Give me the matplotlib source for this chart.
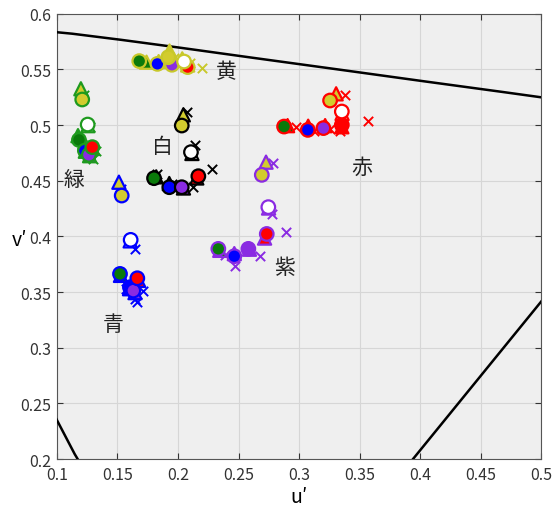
import matplotlib
matplotlib.use("Agg")
import matplotlib.pyplot as plt

plt.rcParams['font.family'] = ['Noto Sans CJK JP', 'DejaVu Sans']

# Clusters (target colours) and their labels
clusters = ['黄', '白', '赤', '緑', '紫', '青']
label_u = [0.2397, 0.1868, 0.3520, 0.1140, 0.2884, 0.1463]
label_v = [0.5488, 0.4813, 0.4625, 0.4517, 0.3726, 0.3213]
cluster_edge = ['#c8c82a', '#000000', '#ff0000', '#1e9a1e', '#8a2be2', '#0000ff']

# Conditions (face colours): green, blue, purple, red, yellow, white
condition_face = ['#0a7a0a', '#0000ff', '#8a2be2', '#ff0000', '#d2cc2e', '#ffffff']

# circle markers: rows = clusters, cols = conditions
circle_u = [
    [0.168, 0.183, 0.195, 0.208, 0.192, 0.205],
    [0.1802, 0.1928, 0.2031, 0.2168, 0.2031, 0.2107],
    [0.2876, 0.3072, 0.3201, 0.3353, 0.3256, 0.3353],
    [0.1182, 0.1231, 0.1264, 0.1292, 0.1209, 0.1254],
    [0.2333, 0.2465, 0.2581, 0.2733, 0.2692, 0.2746],
    [0.1521, 0.1603, 0.1631, 0.1664, 0.1535, 0.1609],
]
circle_v = [
    [0.5575, 0.5550, 0.5542, 0.5521, 0.5610, 0.5571],
    [0.4523, 0.4442, 0.4442, 0.4541, 0.4996, 0.4757],
    [0.4987, 0.4957, 0.4973, 0.5002, 0.5221, 0.5122],
    [0.4867, 0.4771, 0.4733, 0.4802, 0.5230, 0.5005],
    [0.3888, 0.3822, 0.3888, 0.4022, 0.4553, 0.4263],
    [0.3663, 0.3543, 0.3513, 0.3624, 0.4367, 0.3969],
]
# triangle markers
tri_u = [
    [0.174, 0.184, 0.196, 0.208, 0.193, 0.2035],
    [0.182, 0.1928, 0.2045, 0.2155, 0.2044, 0.2115],
    [0.2905, 0.3075, 0.3215, 0.3353, 0.3306, 0.3355],
    [0.1174, 0.1235, 0.1270, 0.1295, 0.1198, 0.1256],
    [0.2345, 0.2465, 0.2590, 0.2715, 0.2727, 0.2748],
    [0.1525, 0.1600, 0.1645, 0.1675, 0.1512, 0.1605],
]
tri_v = [
    [0.5565, 0.5570, 0.5580, 0.5540, 0.5665, 0.5595],
    [0.4535, 0.4475, 0.4435, 0.4525, 0.5092, 0.4745],
    [0.4995, 0.4990, 0.4995, 0.4985, 0.5281, 0.5105],
    [0.4905, 0.4765, 0.4725, 0.4790, 0.5326, 0.4995],
    [0.3875, 0.3845, 0.3885, 0.3985, 0.4667, 0.4255],
    [0.3650, 0.3530, 0.3495, 0.3605, 0.4487, 0.3960],
]
# cross markers
cross_u = [
    [0.177, 0.190, 0.200, 0.2196, 0.197, 0.210],
    [0.183, 0.195, 0.2126, 0.2279, 0.2077, 0.2140],
    [0.2975, 0.3124, 0.3256, 0.3570, 0.3380, 0.3339],
    [0.1207, 0.1273, 0.1298, 0.1322, 0.1223, 0.1273],
    [0.2388, 0.2471, 0.2678, 0.2893, 0.2788, 0.2777],
    [0.1570, 0.1645, 0.1661, 0.1711, 0.1529, 0.1645],
]
cross_v = [
    [0.5560, 0.5550, 0.5550, 0.5512, 0.5600, 0.5560],
    [0.4560, 0.4470, 0.4442, 0.4607, 0.5122, 0.4822],
    [0.4984, 0.4948, 0.4966, 0.5041, 0.5266, 0.4951],
    [0.4831, 0.4742, 0.4697, 0.4769, 0.5272, 0.4984],
    [0.3834, 0.3738, 0.3827, 0.4043, 0.4661, 0.4202],
    [0.3528, 0.3438, 0.3411, 0.3510, 0.4427, 0.3888],
]

# CIE 1976 u'v' spectral locus (nm: 380,460,470,475,480,490,500,...,620,700) + purple line
locus_u = [0.2568, 0.1877, 0.1441, 0.1147, 0.0828, 0.0282, 0.0035, 0.0046, 0.0231,
           0.0501, 0.0792, 0.1127, 0.1531, 0.2026, 0.2623, 0.3315, 0.4035, 0.4692,
           0.5203, 0.6234, 0.2568]
locus_v = [0.0165, 0.0871, 0.1510, 0.2044, 0.2708, 0.4117, 0.5131, 0.5638, 0.5837,
           0.5868, 0.5856, 0.5821, 0.5766, 0.5694, 0.5604, 0.5501, 0.5393, 0.5296,
           0.5219, 0.5065, 0.0165]

x_ticks = [0.1, 0.15, 0.2, 0.25, 0.3, 0.35, 0.4, 0.45, 0.5]
y_ticks = [0.2, 0.25, 0.3, 0.35, 0.4, 0.45, 0.5, 0.55, 0.6]

fig = plt.figure(figsize=(5.58, 5.10), dpi=100)
ax = fig.add_axes([0.102, 0.098, 0.868, 0.873])
ax.set_facecolor('#efefef')

ax.plot(locus_u, locus_v, color='black', lw=1.8, zorder=3, clip_on=True)

for ci in range(len(clusters)):
    ec = cluster_edge[ci]
    ax.scatter(cross_u[ci], cross_v[ci], marker='x', s=45, color=ec,
               linewidths=1.4, zorder=4)
    ax.scatter(tri_u[ci], tri_v[ci], marker='^', s=90,
               facecolors=condition_face, edgecolors=ec, linewidths=1.6, zorder=5)
    ax.scatter(circle_u[ci], circle_v[ci], marker='o', s=95,
               facecolors=condition_face, edgecolors=ec, linewidths=1.6, zorder=6)
    ax.text(label_u[ci], label_v[ci], clusters[ci], fontsize=15, color='#222222',
            ha='center', va='center', zorder=7)

ax.set_xlim(0.1, 0.5)
ax.set_ylim(0.2, 0.6)
ax.set_xticks(x_ticks)
ax.set_yticks(y_ticks)
ax.set_xticklabels([f'{t:g}' for t in x_ticks])
ax.set_yticklabels([f'{t:g}' for t in y_ticks])
ax.grid(True, color='#d6d6d6', lw=0.8, zorder=0)
ax.set_axisbelow(True)
ax.tick_params(direction='in', length=4, width=0.8, top=True, right=True,
               labelsize=11.5, colors='#333333')
ax.tick_params(axis='x', pad=5)
ax.tick_params(axis='y', pad=4)
for sp in ax.spines.values():
    sp.set_color('#555555')
    sp.set_linewidth(0.8)

ax.set_xlabel("u′", fontsize=14, labelpad=2)
ax.set_ylabel("v′", fontsize=14, rotation=0, va='center', ha='center')
ax.yaxis.set_label_coords(-0.078, 0.494)

fig.savefig('out.png', dpi=100, facecolor='white')
